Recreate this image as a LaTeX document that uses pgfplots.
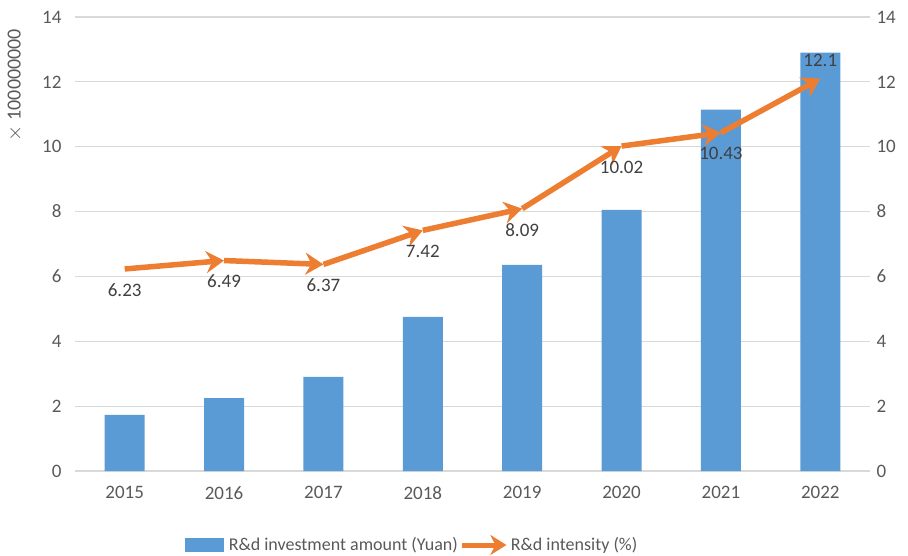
\documentclass[border=0pt]{standalone}
\usepackage{pgfplots}
\pgfplotsset{compat=1.18}
\usepackage{fontspec}
\setmainfont{Carlito}
\usetikzlibrary{arrows.meta}
\definecolor{barblue}{HTML}{5B9BD5}
\definecolor{lineorange}{HTML}{ED7D31}
\definecolor{ticktext}{HTML}{595959}
\definecolor{labeltext}{HTML}{404040}
\definecolor{gridgray}{HTML}{D9D9D9}
\newcommand{\bigfont}{\fontsize{19bp}{22bp}\selectfont}
\begin{document}
\begin{tikzpicture}
\useasboundingbox (-75bp,-85bp) rectangle (833bp,471bp);
\pgfplotsset{
  common/.style={
    scale only axis, width=795bp, height=454bp,
    xmin=-0.5, xmax=7.5, ymin=0, ymax=14,
    ytick={0,2,...,14},
    axis line style={draw=none},
    major tick style={draw=none},
    tick label style={font=\bigfont, text=ticktext},
    /pgf/number format/assume math mode=true,
  }
}
\begin{axis}[common, clip=false,
  ymajorgrids, grid style={gridgray, line width=1.2bp},
  xtick={0,...,7},
  xticklabels={2015,2016,2017,2018,2019,2020,2021,2022},
  xticklabel style={yshift=-12bp},
  yticklabel style={xshift=-10bp},
  legend style={at={(0.424,-0.163)}, anchor=center, draw=none, fill=none,
    legend columns=2, font=\fontsize{18bp}{21bp}\selectfont, text=ticktext,
    /tikz/every even column/.append style={column sep=0bp}},
  legend cell align=left,
]
\addplot[ybar, bar width=40bp, fill=barblue, draw=none,
  legend image code/.code={\fill[barblue] (0bp,-7bp) rectangle (39bp,7bp);}]
  table {
x y
0 1.73
1 2.25
2 2.90
3 4.75
4 6.36
5 8.05
6 11.14
7 12.90
};
\addlegendentry{\hspace{3bp}R\&d investment amount (Yuan)}
\addlegendimage{legend image code/.code={\draw[lineorange, line width=5bp, -{Stealth[length=16bp,width=20bp,inset=5bp]}] (-2bp,0bp) -- (42bp,0bp);}}
\addlegendentry{R\&d intensity (\%)}
\node[rotate=90, font=\fontsize{20bp}{22bp}\selectfont, text=ticktext] at (rel axis cs:-0.0755,0.85) {$\times$ 100000000};
\end{axis}
\begin{axis}[common,
  axis y line*=right, axis x line=none,
  yticklabel style={xshift=3bp},
]
\addplot[quiver={u=\thisrow{u}, v=\thisrow{v}},
  -{Stealth[length=18bp,width=22bp,inset=6bp]}, lineorange, line width=5.5bp]
  table {
x y u v
0 6.23 1 0.26
1 6.49 1 -0.12
2 6.37 1 1.05
3 7.42 1 0.67
4 8.09 1 1.93
5 10.02 1 0.41
6 10.43 1 1.67
};
\addplot[draw=none, mark=none, nodes near coords, point meta=explicit symbolic,
  nodes near coords style={font=\bigfont, text=labeltext, anchor=center, yshift=-21bp}]
  table[meta=label] {
x y label
0 6.23 6.23
1 6.49 6.49
2 6.37 6.37
3 7.42 7.42
4 8.09 8.09
5 10.02 10.02
6 10.43 10.43
};
\addplot[draw=none, mark=none, nodes near coords, point meta=explicit symbolic,
  nodes near coords style={font=\bigfont, text=labeltext, anchor=center, yshift=18bp}]
  table[meta=label] {
x y label
7 12.1 12.1
};
\end{axis}
\end{tikzpicture}
\end{document}
